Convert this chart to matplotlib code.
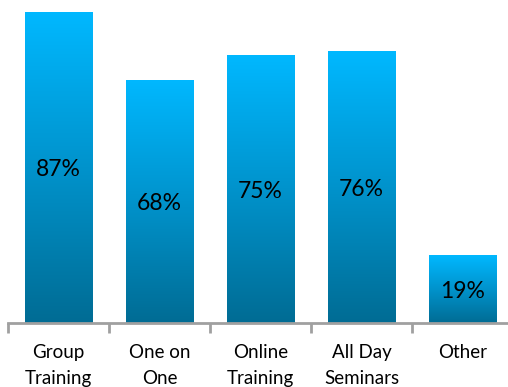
import numpy as np
import matplotlib
matplotlib.use("Agg")
import matplotlib.pyplot as plt
from matplotlib.colors import LinearSegmentedColormap

categories = ["Group\nTraining", "One on\nOne", "Online\nTraining", "All Day\nSeminars", "Other"]
values = [87, 68, 75, 76, 19]

plt.rcParams["font.family"] = ["Lato", "DejaVu Sans"]

W, H = 508, 387
fig = plt.figure(figsize=(W / 100, H / 100), dpi=100)
# axes: x from 8px to 513px (5 slots of 101px), y from 323px (baseline) to top
ax = fig.add_axes([8 / W, (H - 323) / H, 505 / W, 323 / H])

ymax = 90.35
ax.set_xlim(-0.5, len(values) - 0.5)
ax.set_ylim(0, ymax)

grad = LinearSegmentedColormap.from_list("bar", ["#006c94", "#0093cc", "#00b8ff"])
x = np.arange(len(values))
bars = ax.bar(x, values, width=0.67, color="none", edgecolor="none", zorder=2)
g = np.linspace(0, 1, 256).reshape(-1, 1)
for b, v in zip(bars, values):
    x0 = b.get_x()
    x1 = x0 + b.get_width()
    im = ax.imshow(g, cmap=grad, origin="lower", aspect="auto",
                   extent=(x0, x1, 0, v), zorder=2, interpolation="bilinear")
    im.set_clip_path(b)
    ax.text(b.get_x() + b.get_width() / 2, v / 2 - 0.6, f"{v}%", ha="center", va="center",
            fontsize=16.5, color="black", zorder=3)
ax.set_xlim(-0.5, len(values) - 0.5)
ax.set_ylim(0, ymax)

for s in ["top", "right", "left"]:
    ax.spines[s].set_visible(False)
ax.spines["bottom"].set_color("#a0a0a0")
ax.spines["bottom"].set_linewidth(2)
ax.set_yticks([])
ax.set_xticks(np.arange(len(values) + 1) - 0.5)
ax.set_xticklabels([])
ax.tick_params(axis="x", direction="out", length=7, width=2, color="#a0a0a0")
for xi, lab in zip(x, categories):
    ax.text(xi, -6.0, lab, ha="center", va="top", fontsize=13.5,
            linespacing=1.58, color="black", transform=ax.transData, clip_on=False)

fig.savefig("out.png", dpi=100)
